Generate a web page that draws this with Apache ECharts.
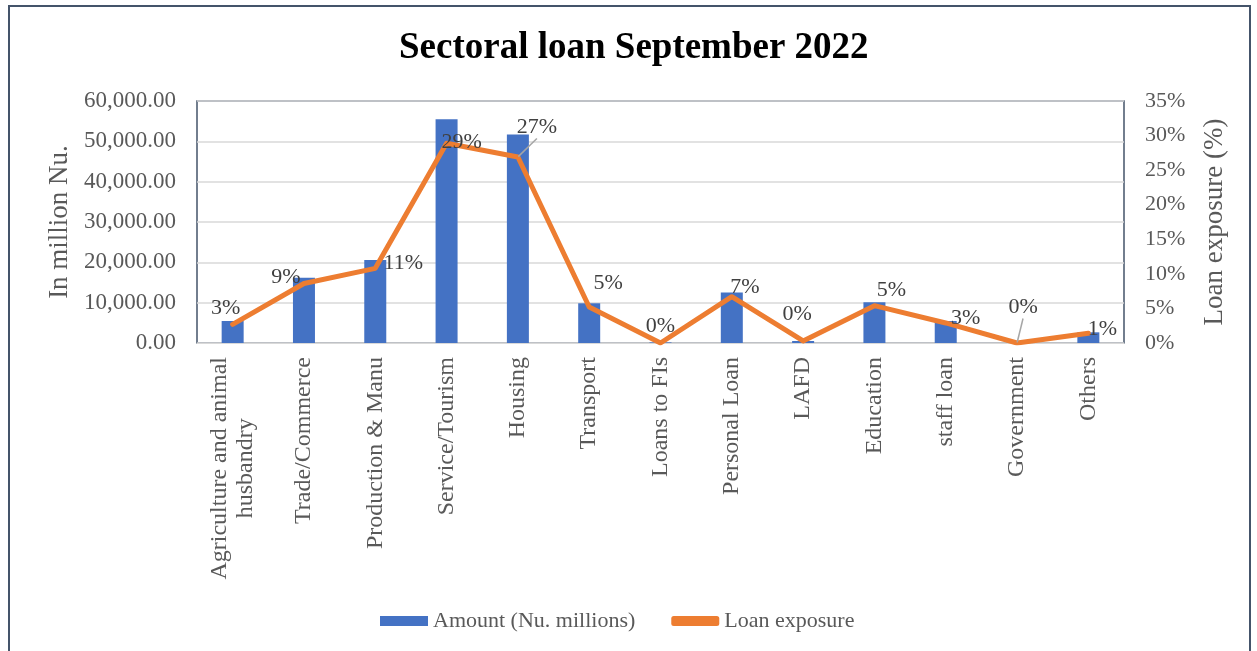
<!DOCTYPE html>
<html>
<head>
<meta charset="utf-8">
<script src="https://cdn.jsdelivr.net/npm/echarts@6/dist/echarts.min.js"></script>
<style>
html, body { margin: 0; padding: 0; background: #fff; }
#main { width: 1257px; height: 651px; }
</style>
</head>
<body>
<div id="main"></div>
<script>
var dom = document.getElementById("main");
var myChart = echarts.init(dom);

var sectors = ['Agriculture and animal husbandry', 'Trade/Commerce', 'Production & Manu', 'Service/Tourism', 'Housing',
    'Transport', 'Loans to FIs', 'Personal Loan', 'LAFD', 'Education', 'staff loan', 'Government', 'Others'];
var amounts = [5450, 16200, 20600, 55500, 51700, 9850, 150, 12550, 500, 10100, 5450, 50, 2650];
var exposure = [2.7, 8.6, 10.8, 28.9, 26.9, 5.2, 0, 6.7, 0.3, 5.4, 2.9, 0, 1.4];
var amountTicks = [0, 60000, 10000];
var exposureTicks = [0, 35, 5];

// where each % label sits relative to its point (dx, dy)
var labelShift = [[-7, 0], [-18, 10], [28, 11], [15, 16], [19, -13], [19, -7], [0, 0],
    [13, 7], [-6, -10], [17, 1], [20, 12], [6, -19], [14, 12]];
var guideLine = [4, 11];

var serif = "'Liberation Serif', 'Times New Roman', serif";
var grey = '#595959';

option = {
    animation: false,
    textStyle: { fontFamily: serif },
    title: {
        text: 'Sectoral loan September 2022',
        left: 394,
        top: 25,
        textStyle: { fontFamily: serif, fontSize: 37, fontWeight: 'bold', color: '#000' }
    },
    graphic: [{
        type: 'rect',
        shape: { x: 9, y: 6, width: 1241, height: 700 },
        style: { fill: 'none', stroke: '#44546A', lineWidth: 2 },
        silent: true
    }],
    legend: {
        bottom: 14,
        left: 375,
        itemGap: 36,
        itemWidth: 48,
        itemHeight: 10,
        textStyle: { fontFamily: serif, fontSize: 22, color: grey },
        data: [
            { name: 'Amount (Nu. millions)', icon: 'rect' },
            { name: 'Loan exposure', icon: 'roundRect' }
        ]
    },
    grid: {
        left: 197,
        right: 133,
        top: 101,
        bottom: 308,
        show: true,
        borderColor: '#44546A',
        borderWidth: 1.5
    },
    xAxis: {
        type: 'category',
        data: sectors,
        axisTick: { show: false },
        axisLine: { lineStyle: { color: '#d9d9d9' } },
        axisLabel: {
            interval: 0,
            rotate: 90,
            margin: 14,
            fontFamily: serif,
            fontSize: 24,
            color: grey,
            formatter: function (v) {
                if (v.indexOf('Agriculture') === 0) {
                    return '{a|Agriculture and animal}\n{a|husbandry}';
                }
                return v;
            },
            rich: {
                a: { align: 'center', fontFamily: serif, fontSize: 24, color: grey, lineHeight: 26 }
            }
        }
    },
    yAxis: [{
        type: 'value',
        min: amountTicks[0],
        max: amountTicks[1],
        interval: amountTicks[2],
        name: 'In million Nu.',
        nameLocation: 'middle',
        nameGap: 116,
        nameTextStyle: { fontFamily: serif, fontSize: 27, color: grey },
        axisLine: { show: false },
        axisTick: { show: false },
        splitLine: { lineStyle: { color: '#d9d9d9', width: 1.5 } },
        axisLabel: {
            margin: 21,
            fontFamily: serif,
            fontSize: 23,
            color: grey,
            formatter: function (v) {
                return v.toLocaleString('en-US', { minimumFractionDigits: 2, maximumFractionDigits: 2 });
            }
        }
    }, {
        type: 'value',
        min: exposureTicks[0],
        max: exposureTicks[1],
        interval: exposureTicks[2],
        name: 'Loan exposure (%)',
        nameLocation: 'middle',
        nameGap: 77,
        nameTextStyle: { fontFamily: serif, fontSize: 27, color: grey },
        axisLine: { show: false },
        axisTick: { show: false },
        splitLine: { show: false },
        axisLabel: {
            margin: 21,
            fontFamily: serif,
            fontSize: 22,
            color: grey,
            formatter: '{value}%'
        }
    }],
    series: [{
        name: 'Amount (Nu. millions)',
        type: 'bar',
        yAxisIndex: 0,
        barWidth: 22,
        itemStyle: { color: '#4472C4' },
        data: amounts
    }, {
        name: 'Loan exposure',
        type: 'line',
        yAxisIndex: 1,
        symbol: 'circle',
        symbolSize: 1,
        showSymbol: true,
        lineStyle: { color: '#ED7D31', width: 5, cap: 'round', join: 'round' },
        itemStyle: { color: '#ED7D31' },
        z: 3,
        label: {
            show: true,
            position: 'top',
            distance: 5,
            fontFamily: serif,
            fontSize: 22,
            color: '#404040',
            formatter: function (p) { return Math.round(p.value) + '%'; }
        },
        labelLine: { show: false, lineStyle: { color: '#a6a6a6', width: 1.5 } },
        labelLayout: function (p) {
            var s = labelShift[p.dataIndex];
            return { dx: s[0], dy: s[1] };
        },
        data: exposure.map(function (v, i) {
            var item = { value: v };
            if (guideLine.indexOf(i) >= 0) {
                item.labelLine = { show: true };
            }
            return item;
        })
    }]
};

if (option && typeof option === "object") {
    myChart.setOption(option, true);
}
</script>
</body>
</html>
